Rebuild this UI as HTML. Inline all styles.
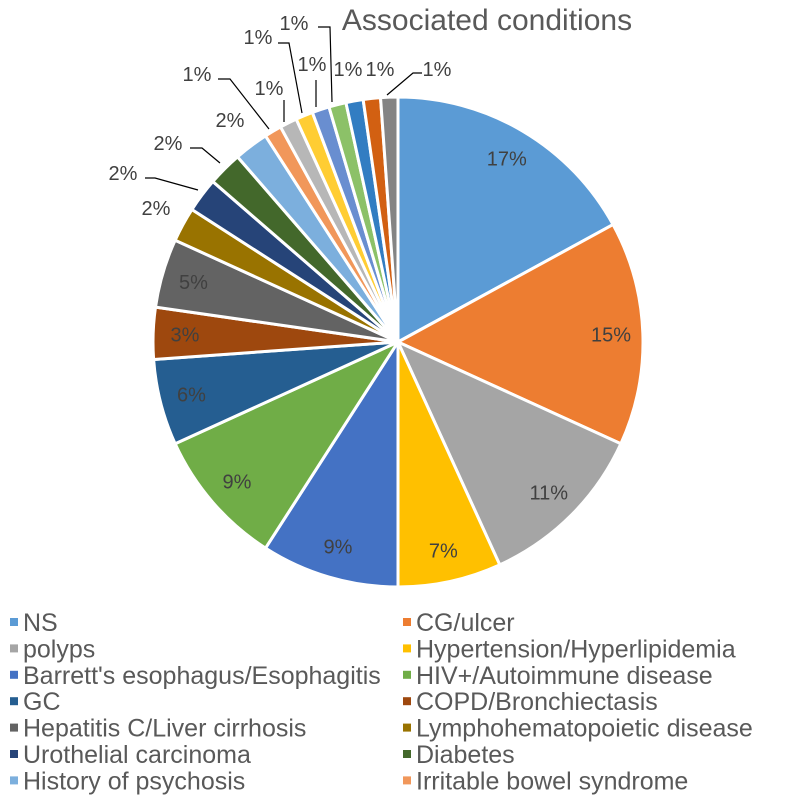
<!DOCTYPE html>
<html><head><meta charset="utf-8"><style>
body{margin:0;background:#fff;}
svg{display:block;font-family:"Liberation Sans",sans-serif;}
</style></head><body>
<svg id="chart" width="794" height="802" viewBox="0 0 794 802">
<text x="487" y="30" text-anchor="middle" font-size="30" fill="#595959">Associated conditions</text>
<g id="slices"></g><g id="labels"></g><g id="legend"></g>
</svg>
<script>
const categories=["NS","CG/ulcer","polyps","Hypertension/Hyperlipidemia","Barrett's esophagus/Esophagitis","HIV+/Autoimmune disease","GC","COPD/Bronchiectasis","Hepatitis C/Liver cirrhosis","Lymphohematopoietic disease","Urothelial carcinoma","Diabetes","History of psychosis","Irritable bowel syndrome","Other 1","Other 2","Other 3","Other 4","Other 5","Other 6","Other 7"];
const counts=[15,13,10,6,8,8,5,3,4,2,2,2,2,1,1,1,1,1,1,1,1];
const colors=["#5B9BD5","#ED7D31","#A5A5A5","#FFC000","#4472C4","#70AD47","#255E91","#9E480E","#636363","#997300","#264478","#43682B","#7CAFDD","#F1975A","#B7B7B7","#FFCD33","#698ED0","#8CC168","#327DC2","#D26012","#848484"];
const outside={9:{t:[156,208]},10:{t:[123,173],l:[[145,178],[155,178],[198,190]]},11:{t:[168,143],l:[[190,148],[202,148],[220,163]]},12:{t:[230,120]},13:{t:[197,74],l:[[218,79],[230,79],[269,129]]},14:{t:[269,88],l:[[284,100],[284,122]]},15:{t:[258,37],l:[[278,43],[289,43],[302,113]]},16:{t:[312,64],l:[[316,80],[316,107]]},17:{t:[294,23],l:[[318,27],[330,27],[332,102]]},18:{t:[348,69]},19:{t:[380,69]},20:{t:[437,69],l:[[422,73],[413,73],[387,95]]}};
const NS="http://www.w3.org/2000/svg";
const cx=398,cy=342,R=245;
const total=counts.reduce((a,b)=>a+b,0);
function pt(a,r){return [cx+r*Math.sin(a),cy-r*Math.cos(a)];}
const gS=document.getElementById('slices'),gL=document.getElementById('labels'),gG=document.getElementById('legend');
let acc=0;
counts.forEach((v,i)=>{
  const a0=acc/total*2*Math.PI; acc+=v; const a1=acc/total*2*Math.PI;
  const p0=pt(a0,R),p1=pt(a1,R);
  const p=document.createElementNS(NS,'path');
  p.setAttribute('d',`M${cx},${cy}L${p0[0]},${p0[1]}A${R},${R} 0 ${a1-a0>Math.PI?1:0} 1 ${p1[0]},${p1[1]}Z`);
  p.setAttribute('fill',colors[i]);p.setAttribute('stroke','#fff');p.setAttribute('stroke-width','3');
  
  
  gS.appendChild(p);
  const pct=Math.round(v/total*100)+'%';
  let tx,ty;
  if(outside[i]){tx=outside[i].t[0];ty=outside[i].t[1];
    if(outside[i].l){const pl=document.createElementNS(NS,'polyline');
      pl.setAttribute('points',outside[i].l.map(q=>q.join(',')).join(' '));
      pl.setAttribute('fill','none');pl.setAttribute('stroke','#000');pl.setAttribute('stroke-width','1.2');
      
      
      gL.appendChild(pl);}
  } else {const m=pt((a0+a1)/2,R*0.87);tx=m[0];ty=m[1];}
  const t=document.createElementNS(NS,'text');
  t.setAttribute('x',tx);t.setAttribute('y',ty+7);t.setAttribute('text-anchor','middle');
  t.setAttribute('font-size','20');t.setAttribute('fill','#404040');t.textContent=pct;
  
  
  gL.appendChild(t);
});
for(let i=0;i<14;i++){
  const col=i%2,row=Math.floor(i/2);
  const x=col?403:10,y=622+row*26.4;
  const g=document.createElementNS(NS,'g');
  
  
  const r=document.createElementNS(NS,'rect');
  r.setAttribute('x',x);r.setAttribute('y',y-4);r.setAttribute('width',8);r.setAttribute('height',8);r.setAttribute('fill',colors[i]);
  const t=document.createElementNS(NS,'text');
  t.setAttribute('x',x+13);t.setAttribute('y',y+9);t.setAttribute('font-size','25');t.setAttribute('fill','#595959');
  t.textContent=categories[i];
  g.appendChild(r);g.appendChild(t);gG.appendChild(g);
}
</script>
</body></html>
